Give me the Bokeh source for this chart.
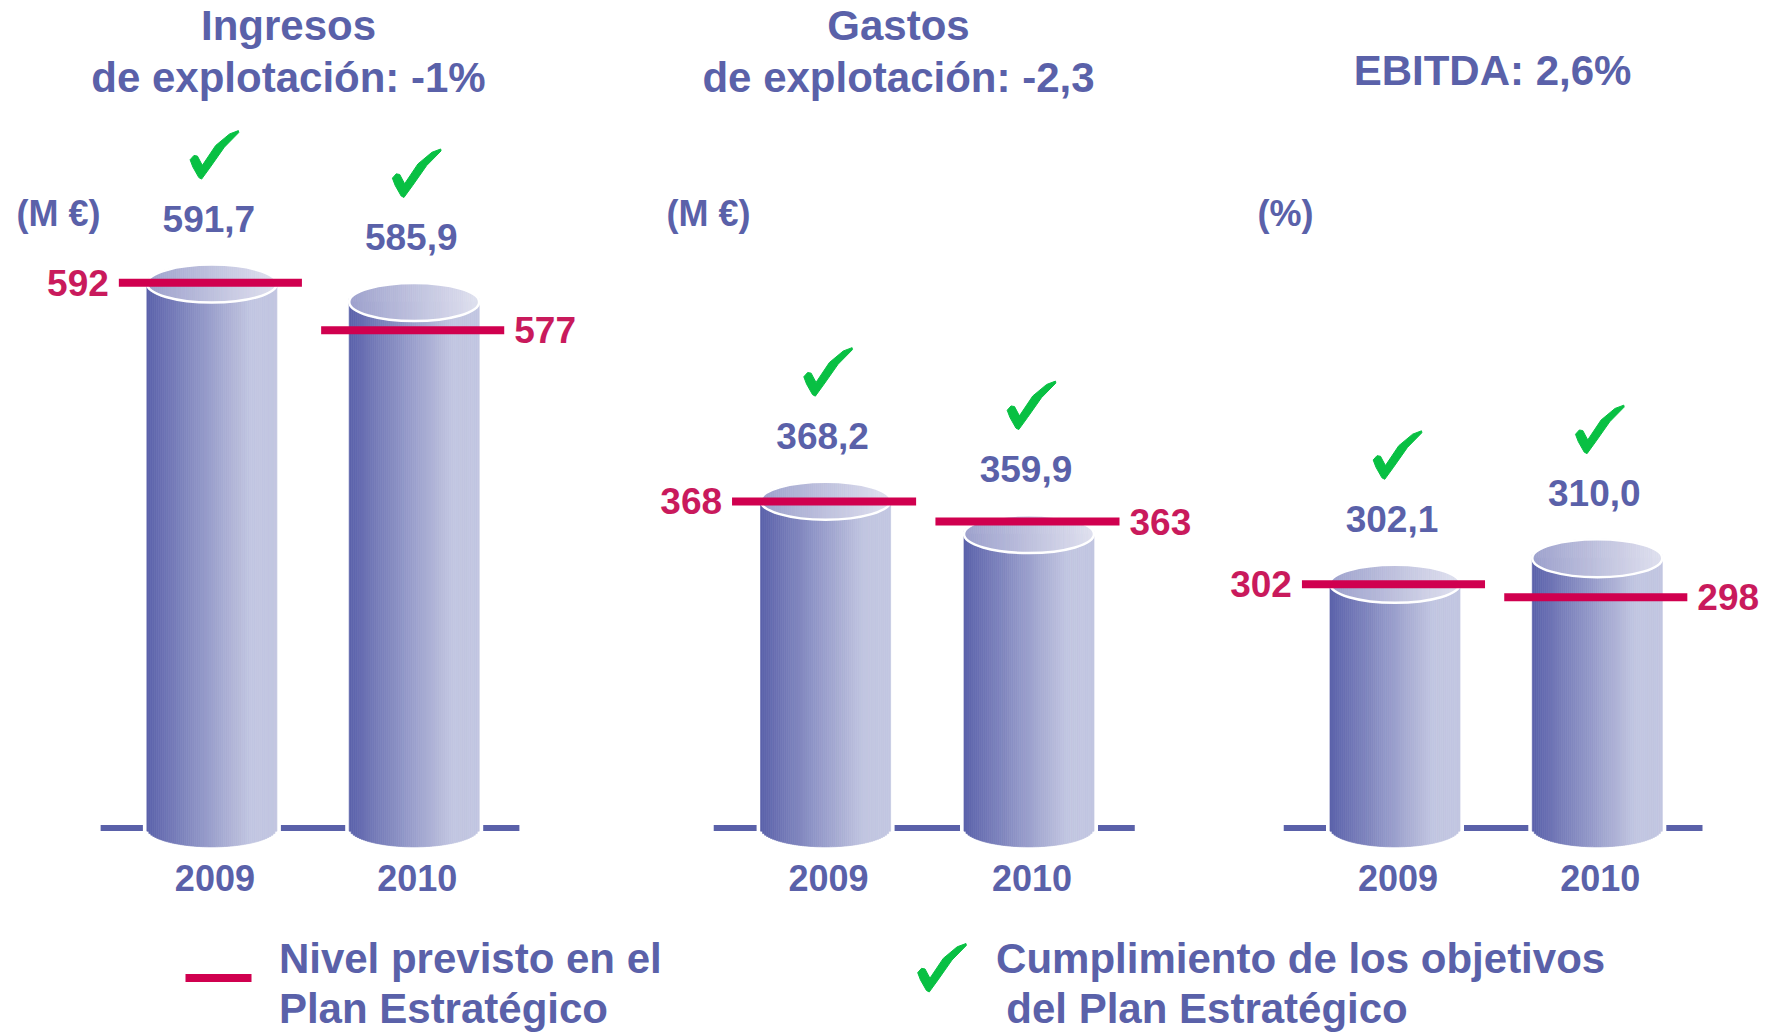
import numpy as np
from bokeh.plotting import figure
from bokeh.models import Range1d, ColumnDataSource
from bokeh.core.properties import value
from bokeh.embed import file_html
from bokeh.resources import INLINE

# ---------------- data ----------------
years = ["2009", "2010"]
ingresos_real = [591.7, 585.9]
ingresos_plan = [592, 577]
gastos_real = [368.2, 359.9]
gastos_plan = [368, 363]
ebitda_real = [302.1, 310.0]
ebitda_plan = [302, 298]
title_ingresos = ["Ingresos", "de explotación: -1%"]
title_gastos = ["Gastos", "de explotación: -2,3"]
title_ebitda = ["EBITDA: 2,6%"]
unit_labels = ["(M €)", "(M €)", "(%)"]
legend_plan = ["Nivel previsto en el", "Plan Estratégico"]
legend_check = ["Cumplimiento de los objetivos", "del Plan Estratégico"]

# ---------------- style / layout ----------------
W, H = 1782, 1032
BASE = 827.4            # baseline, px from top of frame
FONT = value("Liberation Sans")
BLUE = "#5a61a9"
RED = "#d0004f"
RED_TXT = "#c91a5c"
GREEN = "#08c043"
DARK = (90, 97, 170)
LIGHT = (194, 198, 225)
TOP_L = (158, 162, 205)
TOP_R = (224, 225, 239)
BODY_W = 130            # px
ELL = 19                # px, half-height of ellipses
CHECK_W, CHECK_H = 49, 48
CHECK_X = [0.014, 0.093, 0.164, 0.264, 0.536, 0.82, 1.0, 1.007, 0.714, 0.429, 0.25, 0.193, 0.071]
CHECK_Y = [0.607, 0.517, 0.531, 0.724, 0.31, 0.069, 0.0, 0.041, 0.345, 0.759, 1.01, 0.979, 0.759]

panels = [
    dict(real=ingresos_real, plan=ingresos_plan, title=title_ingresos, unit=unit_labels[0],
         c=(211.4, 413.7), k=3.17, v0=420.0, tx=288, ux=16, ty=[25, 77]),
    dict(real=gastos_real, plan=gastos_plan, title=title_gastos, unit=unit_labels[1],
         c=(825.1, 1028.5), k=4.03, v0=287.0, tx=898, ux=666, ty=[25, 77]),
    dict(real=ebitda_real, plan=ebitda_plan, title=title_ebitda, unit=unit_labels[2],
         c=(1394.5, 1596.8), k=3.25, v0=227.0, tx=1492, ux=1257, ty=[70]),
]


def mix(c1, c2, t):
    return "#%02x%02x%02x" % tuple(int(round(a + (b - a) * t)) for a, b in zip(c1, c2))


def fmt(v):
    return f"{v:.1f}".replace(".", ",")


p = figure(width=W, height=H, x_range=Range1d(0, W), y_range=Range1d(H, 0),
           output_backend="svg", toolbar_location=None, min_border=0,
           x_axis_location=None, y_axis_location=None)
p.grid.visible = False
p.outline_line_color = None
p.background_fill_color = "white"

N = 66
u_edges = np.linspace(-1, 1, N + 1)
u_mid = (u_edges[:-1] + u_edges[1:]) / 2
body_cols = [mix(DARK, LIGHT, min(1.0, ((u + 1) / 2) / 0.8)) for u in u_mid]
top_cols = [mix(TOP_L, TOP_R, (u + 1) / 2) for u in u_mid]

for j, pn in enumerate(panels):
    c0, c1 = pn["c"]
    dx = c1 - c0
    k = pn["k"]
    v0 = pn["v0"]
    xs = -c0 / dx
    p.extra_x_ranges[f"x{j}"] = Range1d(xs, xs + W / dx)
    ye = v0 + BASE / k
    p.extra_y_ranges[f"y{j}"] = Range1d(ye - H / k, ye)
    rn = dict(x_range_name=f"x{j}", y_range_name=f"y{j}")
    idx = np.arange(len(years), dtype=float)
    hw = BODY_W / dx / 2
    e = ELL / k

    # baseline
    p.segment(x0=[-0.55], y0=[v0], x1=[1.52], y1=[v0], line_color=BLUE, line_width=6, line_cap="butt", **rn)
    p.rect(x=idx, y=[v0] * 2, width=[2 * hw + 8 / dx] * 2, height=12, height_units="screen",
           fill_color="white", line_color=None, **rn)

    # cylinders
    L, R, T, B, C = [], [], [], [], []
    TL, TR, TT, TB, TC = [], [], [], [], []
    for i, val in zip(idx, pn["real"]):
        for m in range(N):
            um = u_mid[m]
            s = np.sqrt(max(0.0, 1 - um * um))
            L.append(i + u_edges[m] * hw)
            R.append(i + u_edges[m + 1] * hw)
            T.append(val)
            B.append(v0 - e * s)
            C.append(body_cols[m])
            TL.append(i + u_edges[m] * hw)
            TR.append(i + u_edges[m + 1] * hw)
            TT.append(val + e * s)
            TB.append(val - e * s)
            TC.append(top_cols[m])
    p.quad(left="l", right="r", top="t", bottom="b", fill_color="c", line_color="c", line_width=0.7,
           source=ColumnDataSource(dict(l=L, r=R, t=T, b=B, c=C)), **rn)
    p.quad(left="l", right="r", top="t", bottom="b", fill_color="c", line_color="c", line_width=0.7,
           source=ColumnDataSource(dict(l=TL, r=TR, t=TT, b=TB, c=TC)), **rn)
    p.ellipse(x=idx, y=pn["real"], width=[2 * hw] * 2, height=2 * ELL, height_units="screen",
              fill_color=None, line_color="white", line_width=2.5, **rn)

    # planned level lines
    p.segment(x0=idx - 0.46, y0=pn["plan"], x1=idx + 0.445, y1=pn["plan"],
              line_color=RED, line_width=8, line_cap="butt", **rn)
    p.text(x=[idx[0] - 0.46 - 10 / dx], y=[pn["plan"][0]], text=[str(pn["plan"][0])],
           text_font=FONT, text_font_style="bold", text_font_size="37px", text_color=RED_TXT,
           text_align="right", text_baseline="middle", **rn)
    p.text(x=[idx[1] + 0.445 + 10 / dx], y=[pn["plan"][1]], text=[str(pn["plan"][1])],
           text_font=FONT, text_font_style="bold", text_font_size="37px", text_color=RED_TXT,
           text_align="left", text_baseline="middle", **rn)

    # value labels
    p.text(x=idx - 3 / dx, y=[v + 65 / k for v in pn["real"]], text=[fmt(v) for v in pn["real"]],
           text_font=FONT, text_font_style="bold", text_font_size="37px", text_color=BLUE,
           text_align="center", text_baseline="middle", **rn)

    # check marks
    cxs, cys = [], []
    for i, v in zip(idx, pn["real"]):
        cxs.append([i + (2 + (nx - 0.5) * CHECK_W) / dx for nx in CHECK_X])
        cys.append([v + (129 + (0.5 - ny) * CHECK_H) / k for ny in CHECK_Y])
    p.patches(xs=cxs, ys=cys, fill_color=GREEN, line_color=GREEN, line_width=1, **rn)

    # year labels
    p.text(x=idx + 3 / dx, y=[v0 - 50 / k] * 2, text=years,
           text_font=FONT, text_font_style="bold", text_font_size="36px", text_color=BLUE,
           text_align="center", text_baseline="middle", **rn)

    # titles and units
    p.text(x=[pn["tx"]] * len(pn["title"]), y=pn["ty"], text=pn["title"],
           text_font=FONT, text_font_style="bold", text_font_size="42px", text_color=BLUE,
           text_align="center", text_baseline="middle")
    p.text(x=[pn["ux"]], y=[213], text=[pn["unit"]],
           text_font=FONT, text_font_style="bold", text_font_size="36px", text_color=BLUE,
           text_align="left", text_baseline="middle")

# legend
p.segment(x0=[185], y0=[977.4], x1=[251], y1=[977.4], line_color=RED, line_width=8, line_cap="butt")
p.text(x=[278.4, 278.4], y=[958, 1008], text=legend_plan,
       text_font=FONT, text_font_style="bold", text_font_size="42px", text_color=BLUE,
       text_align="left", text_baseline="middle")
p.patch(x=[941 + (nx - 0.5) * CHECK_W for nx in CHECK_X],
        y=[967 + (ny - 0.5) * CHECK_H for ny in CHECK_Y],
        fill_color=GREEN, line_color=GREEN, line_width=1)
p.text(x=[995.6, 1005.8], y=[958, 1008], text=legend_check,
       text_font=FONT, text_font_style="bold", text_font_size="42px", text_color=BLUE,
       text_align="left", text_baseline="middle")

open("out.html", "w").write(file_html(p, INLINE))
